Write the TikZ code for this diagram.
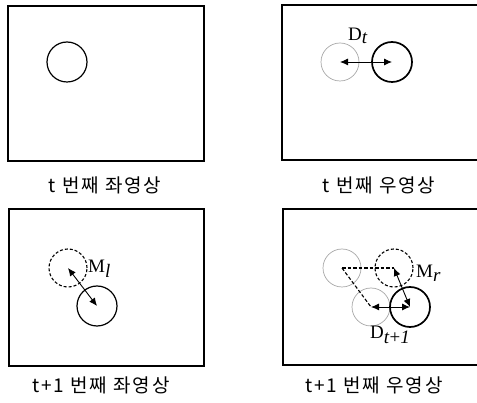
\documentclass[tikz,border=0pt]{standalone}
\usepackage{fontspec}
\setmainfont{Liberation Serif}
\newfontfamily\kr[LetterSpace=10]{Noto Sans CJK KR}
\usetikzlibrary{arrows.meta}
\tikzset{
  x=1pt, y=-1pt,
  frame/.style={line width=1.5pt},
  solidc/.style={circle, draw, line width=1.2pt, minimum size=40pt, inner sep=0pt},
  thickc/.style={circle, draw, line width=1.7pt, minimum size=40pt, inner sep=0pt},
  grayc/.style={circle, draw=gray!70, line width=0.7pt, minimum size=38pt, inner sep=0pt},
  dashc/.style={circle, draw, dashed, dash pattern=on 3pt off 2pt, line width=1.1pt, minimum size=38pt, inner sep=0pt},
  dbl/.style={{Latex[length=8pt,width=7pt]}-{Latex[length=8pt,width=7pt]}, line width=0.9pt},
  dline/.style={dashed, dash pattern=on 3.5pt off 2pt, line width=1.1pt},
  captext/.style={font=\kr\fontsize{19}{22}\selectfont, inner sep=0pt},
  lab/.style={font=\fontsize{19}{22}\selectfont, inner sep=0pt, anchor=west}
}
\begin{document}
\begin{tikzpicture}
\useasboundingbox (0,0) rectangle (477,403);
% boxes
\draw[frame] (8,6) rectangle (204,161);
\draw[frame] (477,5) -- (282,5) -- (282,160) -- (477,160);
\draw[frame] (9,209) rectangle (204,366);
\draw[frame] (477,209) -- (283,209) -- (283,365) -- (477,365);
% captions
\node[captext] (c1) at (105,185) {t 번째 좌영상};
\node[captext] (c2) at (379,185) {t 번째 우영상};
\node[captext] (c3) at (101,385) {t+1 번째 좌영상};
\node[captext] (c4) at (374,385) {t+1 번째 우영상};
% top-left
\node[solidc] (a1) at (67,62) {};
% top-right
\node[grayc] (b0) at (340,62) {};
\node[thickc] (b1) at (392,62) {};
\draw[dbl] (b0.center) -- (b1.center);
\node[lab] (bl) at (348,36) {D\raisebox{-0.4ex}{\textit{t}}};
% bottom-left
\node[dashc] (d0) at (68,268) {};
\node[solidc] (d1) at (97,306) {};
\draw[dbl] (d0.center) -- (d1.center);
\node[lab] (dl) at (88,269) {M\raisebox{-0.6ex}{\textit{l}}};
% bottom-right
\node[grayc] (e0) at (342,268) {};
\node[dashc] (e1) at (394,268) {};
\node[grayc] (e2) at (371,307) {};
\node[thickc] (e3) at (410,307) {};
\draw[dline] (e0.center) -- (e1.center);
\draw[dline] (e0.center) -- (e2.center);
\draw[dbl] (e1.center) -- (e3.center);
\draw[dbl] (e2.center) -- (e3.center);
\node[lab] (el) at (416,273) {M\raisebox{-0.5ex}{\textit{r}}};
\node[lab] (em) at (370,335) {D\raisebox{-0.5ex}{\textit{t}+\textit{1}}};
\end{tikzpicture}
\end{document}
